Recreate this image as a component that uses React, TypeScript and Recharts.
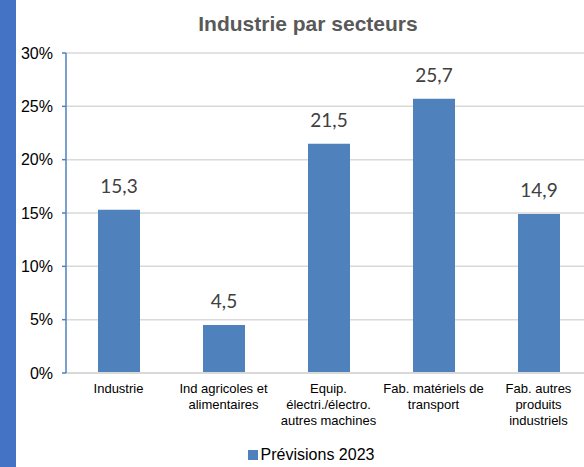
import { BarChart, Bar, XAxis, YAxis, CartesianGrid, LabelList, Legend } from "recharts";

const CATEGORIES = [
  "Industrie",
  "Ind agricoles et\nalimentaires",
  "Equip.\nélectri./électro.\nautres machines",
  "Fab. matériels de\ntransport",
  "Fab. autres\nproduits\nindustriels",
];
const PREVISIONS_2023 = [15.3, 4.5, 21.5, 25.7, 14.9];
const Y_TICKS = [0, 5, 10, 15, 20, 25, 30];
const SERIES_NAME = "Prévisions 2023";

const BAR_COLOR = "#4F81BD";
const ARIAL = "'Liberation Sans', Arial, sans-serif";

const chartData = CATEGORIES.map((name, i) => ({ name, value: PREVISIONS_2023[i] }));

const CategoryTick = (props: any) => {
  const { x, y, payload } = props;
  const lines = String(payload.value).split("\n");
  return (
    <text x={x} y={y} textAnchor="middle" fill="#000" fontSize={13} fontFamily={ARIAL}>
      {lines.map((line, i) => (
        <tspan key={i} x={x} dy={i === 0 ? 12 : 16}>
          {line}
        </tspan>
      ))}
    </text>
  );
};

const LegendContent = () => (
  <div
    style={{
      display: "flex",
      justifyContent: "center",
      alignItems: "center",
      fontFamily: ARIAL,
      fontSize: 16,
      color: "#000",
      lineHeight: "18px",
    }}
  >
    <span style={{ width: 10, height: 10, background: BAR_COLOR, display: "inline-block", marginRight: 3 }} />
    <span>{SERIES_NAME}</span>
  </div>
);

export default function App() {
  return (
    <div
      style={{
        position: "fixed",
        top: 0,
        left: 0,
        width: 584,
        height: 467,
        overflow: "hidden",
        background: "#fff",
      }}
    >
      <div style={{ position: "absolute", left: 0, top: 0, width: 16, height: 467, background: "#4472C4" }} />
      <div
        style={{
          position: "absolute",
          left: 0,
          top: 12,
          width: 616,
          textAlign: "center",
          fontFamily: ARIAL,
          fontWeight: "bold",
          fontSize: 21,
          color: "#595959",
        }}
      >
        Industrie par secteurs
      </div>
      <BarChart
        width={600}
        height={467}
        data={chartData}
        margin={{ top: 53, right: 9, left: 0, bottom: 24 }}
        barSize={42}
      >
        <CartesianGrid vertical={false} stroke="#D9D9D9" strokeWidth={1.5} />
        <XAxis
          dataKey="name"
          interval={0}
          height={70}
          axisLine={{ stroke: "#D9D9D9", strokeWidth: 2 }}
          tickLine={false}
          tick={<CategoryTick />}
        />
        <YAxis
          width={66}
          domain={[0, 30]}
          ticks={Y_TICKS}
          allowDataOverflow
          tickFormatter={(v: number) => `${v}%`}
          axisLine={{ stroke: BAR_COLOR, strokeWidth: 1.5 }}
          tickLine={{ stroke: BAR_COLOR, strokeWidth: 1.5 }}
          tickSize={4}
          tickMargin={9}
          tick={{ fill: "#000", fontSize: 16, fontFamily: ARIAL }}
        />
        <Legend
          verticalAlign="middle"
          content={<LegendContent />}
          wrapperStyle={{ position: "absolute", top: 446, left: 0, width: 622, height: 18 }}
        />
        <Bar dataKey="value" name={SERIES_NAME} fill={BAR_COLOR} isAnimationActive={false}>
          <LabelList
            dataKey="value"
            position="top"
            offset={17}
            formatter={(v: any) => String(v).replace(".", ",")}
            style={{ fill: "#404040", fontSize: 19, fontFamily: "Lato, 'Open Sans', sans-serif" }}
          />
        </Bar>
      </BarChart>
    </div>
  );
}
